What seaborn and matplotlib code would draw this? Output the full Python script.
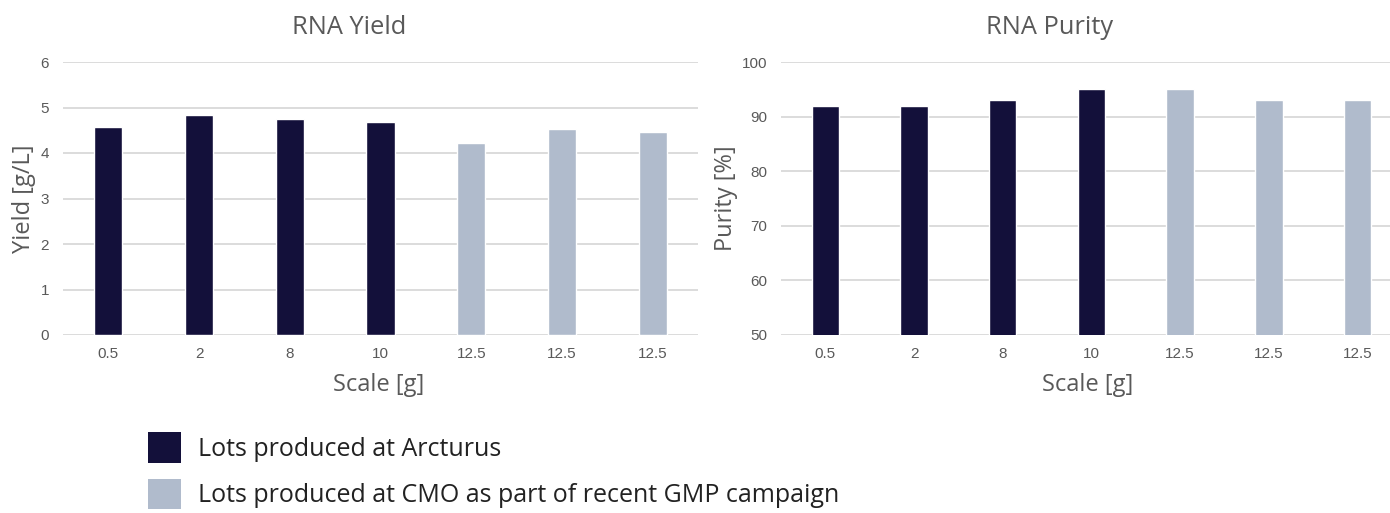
import matplotlib
matplotlib.use("Agg")
import matplotlib.pyplot as plt
import seaborn as sns
import pandas as pd
from matplotlib.patches import Patch

# ---- data ----
lot_ids = ["L1", "L2", "L3", "L4", "L5", "L6", "L7"]
scale_labels = ["0.5", "2", "8", "10", "12.5", "12.5", "12.5"]
sites = ["Arcturus", "Arcturus", "Arcturus", "Arcturus", "CMO", "CMO", "CMO"]
yield_values = [4.57, 4.83, 4.74, 4.69, 4.23, 4.53, 4.47]
purity_values = [92, 92, 93, 95, 95, 93, 93]
legend_labels = ["Lots produced at Arcturus",
                 "Lots produced at CMO as part of recent GMP campaign"]

sns.set_theme(style="white")
plt.rcParams["font.family"] = ["Open Sans", "DejaVu Sans"]

palette = {"Arcturus": "#13103a", "CMO": "#b0bbcc"}
title_color = "#595959"
tick_color = "#595959"
grid_color = "#d9d9d9"
tick_font = ["Liberation Sans Narrow", "Liberation Sans", "DejaVu Sans"]

df = pd.DataFrame({"lot": lot_ids, "scale": scale_labels, "site": sites,
                   "yield": yield_values, "purity": purity_values})

W, H = 1390, 513
fig = plt.figure(figsize=(W / 100, H / 100), dpi=100)
fig.patch.set_facecolor("white")

LX0, LX1 = 63, 698
RX0, RX1 = 781, 1390
Y0, Y1 = 62, 335
axL = fig.add_axes([LX0 / W, 1 - Y1 / H, (LX1 - LX0) / W, (Y1 - Y0) / H])
axR = fig.add_axes([RX0 / W, 1 - Y1 / H, (RX1 - RX0) / W, (Y1 - Y0) / H])

def style(ax, col, ylim, yticks, ylabel, title, x0, x1, title_cx, xlabel_cx, ylabel_right):
    sns.barplot(data=df, x="lot", y=col, hue="site", palette=palette,
                dodge=False, width=0.31, ax=ax, legend=False,
                order=lot_ids, saturation=1)
    ax.set_ylim(*ylim)
    ax.set_yticks(yticks)
    ax.set_xticks(range(len(lot_ids)))
    ax.set_xticklabels(scale_labels)
    for sp in ax.spines.values():
        sp.set_visible(False)
    ax.yaxis.grid(True, color=grid_color, linewidth=1.3)
    ax.set_axisbelow(True)
    ax.tick_params(axis="both", length=0, colors=tick_color)
    ax.tick_params(axis="y", pad=10)
    ax.tick_params(axis="x", pad=9)
    for t in ax.get_xticklabels() + ax.get_yticklabels():
        t.set_fontfamily(tick_font)
        t.set_fontsize(11)
        t.set_color(tick_color)
    wpx = x1 - x0
    ax.set_xlabel("Scale [g]", fontsize=17, color=title_color)
    ax.set_ylabel(ylabel, fontsize=17, color=title_color)
    ax.set_title(title, fontsize=18.3, color=title_color, pad=20,
                 x=(title_cx - x0) / wpx)
    ax.xaxis.set_label_coords((xlabel_cx - x0) / wpx, -(373 - Y1) / (Y1 - Y0))
    ax.yaxis.set_label_coords(-(x0 - ylabel_right) / wpx, 0.5)

style(axL, "yield", (0, 6), range(0, 7), "Yield [g/L]", "RNA Yield",
      LX0, LX1, 349, 379, 36)
axL.set_xlim(-0.5, 6.5)
style(axR, "purity", (50, 100), range(50, 101, 10), "Purity [%]", "RNA Purity",
      RX0, RX1, 1050, 1088, 738)
axR.set_xlim(-0.5, -0.5 + (RX1 - RX0) / 88.7)

handles = [Patch(facecolor=palette["Arcturus"], edgecolor="none"),
           Patch(facecolor=palette["CMO"], edgecolor="none")]
fig.legend(handles, legend_labels, loc="upper left",
           bbox_to_anchor=(148 / W, 1 - 432 / H), frameon=False,
           handlelength=1.33, handleheight=1.5,
           handletextpad=0.68, labelspacing=0.65, borderpad=0,
           borderaxespad=0, labelcolor="#222222",
           prop={"family": ["Open Sans", "DejaVu Sans"], "size": 18})

fig.savefig("out.png", dpi=100, facecolor="white")
